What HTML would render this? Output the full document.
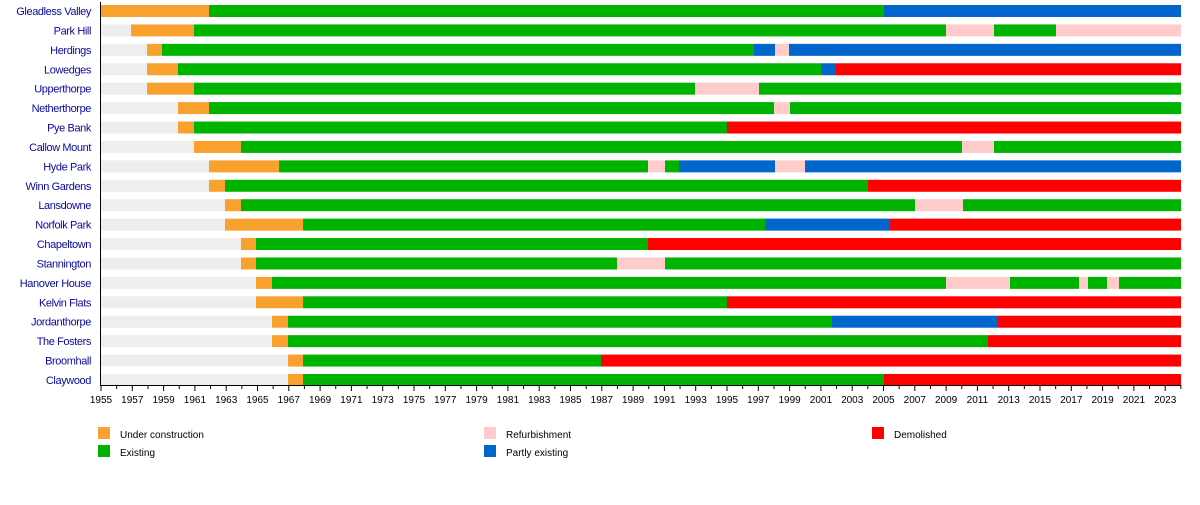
<!DOCTYPE html>
<html><head><meta charset="utf-8"><style>
html,body{margin:0;padding:0;background:#fff;width:1200px;height:505px;overflow:hidden}
svg text{font-family:"Liberation Sans",sans-serif}
</style></head><body>
<svg id="s" width="1200" height="505" xmlns="http://www.w3.org/2000/svg"></svg>
<script>
const C={g:'#eeeeee',o:'#f8a12f',e:'#00b300',p:'#ffcccc',b:'#0066cc',r:'#ff0000'};
const rows=[
["Gleadless Valley",[[101,'o'],[209,'e'],[884,'b']]],
["Park Hill",[[101,'g'],[131,'o'],[194,'e'],[946,'p'],[994,'e'],[1056,'p']]],
["Herdings",[[101,'g'],[147,'o'],[162,'e'],[754,'b'],[775,'p'],[789,'b']]],
["Lowedges",[[101,'g'],[147,'o'],[178,'e'],[821,'b'],[836,'r']]],
["Upperthorpe",[[101,'g'],[147,'o'],[194,'e'],[695,'p'],[759,'e']]],
["Netherthorpe",[[101,'g'],[178,'o'],[209,'e'],[774,'p'],[790,'e']]],
["Pye Bank",[[101,'g'],[178,'o'],[194,'e'],[727,'r']]],
["Callow Mount",[[101,'g'],[194,'o'],[241,'e'],[962,'p'],[994,'e']]],
["Hyde Park",[[101,'g'],[209,'o'],[279,'e'],[648,'p'],[665,'e'],[679,'b'],[775,'p'],[805,'b']]],
["Winn Gardens",[[101,'g'],[209,'o'],[225,'e'],[868,'r']]],
["Lansdowne",[[101,'g'],[225,'o'],[241,'e'],[915,'p'],[963,'e']]],
["Norfolk Park",[[101,'g'],[225,'o'],[303,'e'],[765,'b'],[890,'r']]],
["Chapeltown",[[101,'g'],[241,'o'],[256,'e'],[648,'r']]],
["Stannington",[[101,'g'],[241,'o'],[256,'e'],[617,'p'],[665,'e']]],
["Hanover House",[[101,'g'],[256,'o'],[272,'e'],[946,'p'],[1010,'e'],[1079,'p'],[1088,'e'],[1107,'p'],[1119,'e']]],
["Kelvin Flats",[[101,'g'],[256,'o'],[303,'e'],[727,'r']]],
["Jordanthorpe",[[101,'g'],[272,'o'],[288,'e'],[832,'b'],[998,'r']]],
["The Fosters",[[101,'g'],[272,'o'],[288,'e'],[988,'r']]],
["Broomhall",[[101,'g'],[288,'o'],[303,'e'],[601,'r']]],
["Claywood",[[101,'g'],[288,'o'],[303,'e'],[884,'r']]]];
let h='';
rows.forEach((r,i)=>{const cy=11+i*19.42;const segs=r[1];
 h+=`<text x="91" y="${cy+4}" text-anchor="end" font-size="11" fill="#0a0a9a" letter-spacing="-0.4">${r[0]}</text>`;
 segs.forEach((s,j)=>{const x2=j<segs.length-1?segs[j+1][0]:1181;
  h+=`<rect x="${s[0]}" y="${cy-6}" width="${x2-s[0]}" height="12" fill="${C[s[1]]}"/>`;});
});
h+=`<line x1="100.5" y1="2" x2="100.5" y2="385.5" stroke="#000"/>`;
h+=`<line x1="100" y1="385.5" x2="1181" y2="385.5" stroke="#000"/>`;
for(let y=1955;y<=2024;y++){const x=101+(y-1955)*15.65;const maj=(y-1955)%2==0;
 h+=`<line x1="${x}" y1="385" x2="${x}" y2="${maj?391:389}" stroke="#000"/>`;
 if(maj&&y<=2023)h+=`<text x="${x}" y="403" text-anchor="middle" font-size="10" fill="#000">${y}</text>`;}
const lg=[[98,428,'o','Under construction'],[98,446,'e','Existing'],[484,428,'p','Refurbishment'],[484,446,'b','Partly existing'],[872,428,'r','Demolished']];
lg.forEach(l=>{h+=`<rect x="${l[0]}" y="${l[1]-1}" width="12" height="12" fill="${C[l[2]]}"/><text x="${l[0]+22}" y="${l[1]+10}" font-size="10" fill="#000">${l[3]}</text>`;});
document.getElementById('s').innerHTML=h;
</script>
</body></html>
